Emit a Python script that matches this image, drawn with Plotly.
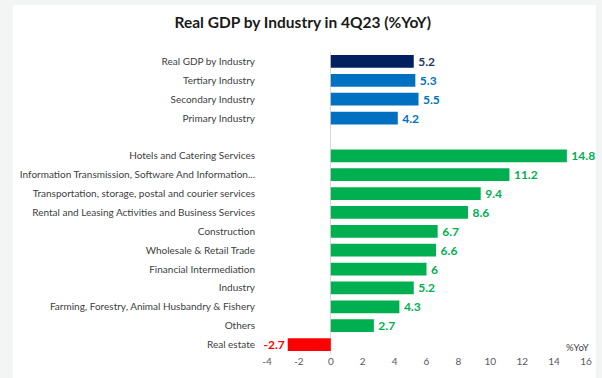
import plotly.graph_objects as go

# Categories top to bottom (" " is a spacer row between the two groups)
categories = [
    "Real GDP by Industry",
    "Tertiary Industry",
    "Secondary Industry",
    "Primary Industry",
    " ",
    "Hotels and Catering Services",
    "Information Transmission, Software And Information...",
    "Transportation, storage, postal and courier services",
    "Rental and Leasing Activities and Business Services",
    "Construction",
    "Wholesale & Retail Trade",
    "Financial Intermediation",
    "Industry",
    "Farming, Forestry, Animal Husbandry & Fishery",
    "Others",
    "Real estate",
]
values = [5.2, 5.3, 5.5, 4.2, None, 14.8, 11.2, 9.4, 8.6, 6.7, 6.6, 6, 5.2, 4.3, 2.7, -2.7]

NAVY = "#002060"
BLUE = "#0070C0"
GREEN = "#00B050"
RED = "#FF0000"
bar_colors = [NAVY, BLUE, BLUE, BLUE, GREEN] + [GREEN] * 10 + [RED]
text_colors = ["#1F3864", BLUE, BLUE, BLUE, GREEN] + [GREEN] * 10 + [RED]

x_ticks = [-4, -2, 0, 2, 4, 6, 8, 10, 12, 14, 16]

# value labels: positive ones get a little extra room from the bar end
labels = ["" if v is None else ("\u2009" + f"{v:g}" if v > 0 else f"{v:g}") for v in values]

FONT = "Lato"
L, R, T, B = 267, 10, 52, 24
PW, PH = 602 - L - R, 378 - T - B

fig = go.Figure(
    go.Bar(
        x=values,
        y=categories,
        orientation="h",
        marker=dict(color=bar_colors, line=dict(width=0)),
        width=0.68,
        text=labels,
        textposition="outside",
        constraintext="none",
        textfont=dict(family=FONT, size=12, color=text_colors, weight="bold"),
        cliponaxis=False,
        hoverinfo="skip",
    )
)

fig.update_layout(
    width=602,
    height=378,
    margin=dict(l=L, r=R, t=T, b=B),
    paper_bgcolor="#F3F4F4",
    plot_bgcolor="white",
    showlegend=False,
    title=dict(
        text="<b>Real GDP by Industry in 4Q23 (%YoY)</b>",
        x=0.503,
        xanchor="center",
        y=0.94,
        yanchor="middle",
        font=dict(family=FONT, size=15.5, color="#1A1A1A"),
    ),
    xaxis=dict(
        range=[-4, 16],
        tickvals=x_ticks,
        ticktext=[str(v) for v in x_ticks],
        showgrid=False,
        zeroline=True,
        zerolinecolor="#D9D9D9",
        zerolinewidth=1,
        showline=False,
        ticks="",
        tickfont=dict(family=FONT, size=10, color="#595959"),
        fixedrange=True,
    ),
    yaxis=dict(
        type="category",
        categoryorder="array",
        categoryarray=categories,
        autorange="reversed",
        showgrid=False,
        zeroline=False,
        showline=False,
        ticks="",
        ticklabelstandoff=11,
        tickfont=dict(family=FONT, size=10, color="#404040"),
        fixedrange=True,
    ),
    shapes=[
        # white card behind the chart
        dict(type="rect", xref="paper", yref="paper", x0=-(L - 8) / PW, x1=1 + R / PW,
             y0=-B / PH, y1=1 + (T - 5) / PH, fillcolor="white", line=dict(width=0), layer="below"),
    ],
    annotations=[
        dict(text="%YoY", xref="x", yref="paper", x=15.45, y=0.02, xanchor="center",
             yanchor="middle", showarrow=False,
             font=dict(family=FONT, size=9.5, color="#404040")),
    ],
)

fig.write_html("out.html")
